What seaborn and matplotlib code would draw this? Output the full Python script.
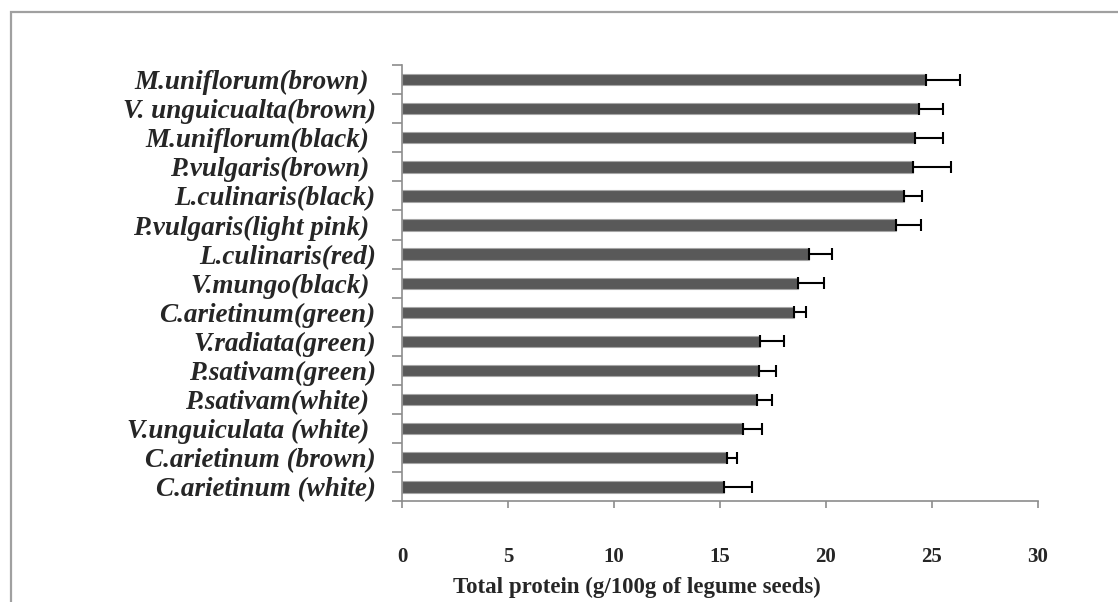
import matplotlib
matplotlib.use('Agg')
import matplotlib.pyplot as plt
from matplotlib.patches import Rectangle
from matplotlib.ticker import FixedLocator
import numpy as np
import pandas as pd
import seaborn as sns

# listed top to bottom as in the chart
legumes = ['M.uniflorum(brown) ', 'V. unguicualta(brown)', 'M.uniflorum(black) ',
           'P.vulgaris(brown) ', 'L.culinaris(black)', 'P.vulgaris(light pink) ',
           'L.culinaris(red)', 'V.mungo(black) ', 'C.arietinum(green)',
           'V.radiata(green)', 'P.sativam(green)', 'P.sativam(white) ',
           'V.unguiculata (white) ', 'C.arietinum (brown)', 'C.arietinum (white)']
protein = [24.7, 24.4, 24.2, 24.1, 23.7, 23.3, 19.2, 18.7, 18.5,
           16.9, 16.85, 16.75, 16.1, 15.35, 15.2]
protein_sd = [1.6, 1.1, 1.3, 1.8, 0.85, 1.2, 1.1, 1.2, 0.55,
              1.1, 0.8, 0.7, 0.9, 0.45, 1.3]
xticks = [0, 5, 10, 15, 20, 25, 30]

df = pd.DataFrame({'legume': legumes, 'protein': protein, 'sd': protein_sd})

sns.set_style('white')
plt.rcParams['font.family'] = ['Liberation Serif', 'DejaVu Serif']

fig = plt.figure(figsize=(11.18, 6.02), dpi=100)
ax = fig.add_axes([0.3596, 0.167, 0.5688, 0.725])

sns.barplot(data=df, x='protein', y='legume', orient='h', color='#595959',
            saturation=1, width=0.39, edgecolor='#a6a6a6', linewidth=0.8,
            errorbar=None, ax=ax)
ax.errorbar(df['protein'], np.arange(len(df)), xerr=[np.zeros(len(df)), df['sd']],
            fmt='none', ecolor='black', elinewidth=1.5, capsize=4.5, capthick=1.5)

ax.set_xlim(0, 30)
ax.set_ylim(len(df) - 0.5, -0.5)
ax.set_xticks(xticks)
ax.set_xticklabels([str(t) for t in xticks], fontsize=15, fontweight='bold')
ax.set_yticks(np.arange(len(df)))
ax.set_yticklabels(legumes, fontsize=19.5, fontweight='bold', fontstyle='italic')
ax.yaxis.set_minor_locator(FixedLocator(np.arange(-0.5, len(df), 1.0)))
ax.tick_params(axis='y', which='major', length=0, pad=19)
ax.tick_params(axis='y', which='minor', length=7, width=1.2, color='#8c8c8c', left=True)
ax.tick_params(axis='x', which='major', length=5, width=1.2, color='#8c8c8c',
               bottom=True, pad=28)
ax.set_xlabel('Total protein (g/100g of legume seeds)', fontsize=16.5,
              fontweight='bold')
ax.xaxis.set_label_coords(0.37, -0.172)
ax.set_ylabel('')

for side in ['top', 'right']:
    ax.spines[side].set_visible(False)
for side in ['left', 'bottom']:
    ax.spines[side].set_color('#8c8c8c')
    ax.spines[side].set_linewidth(1.2)

# outer chart frame, cut off at the right and bottom edges
fig.patches.append(Rectangle((11 / 1118, -0.05), 1.2, 1.05 - 12 / 602,
                             transform=fig.transFigure, fill=False,
                             edgecolor='#a0a0a0', linewidth=1.6))

fig.savefig('out.png', dpi=100)
